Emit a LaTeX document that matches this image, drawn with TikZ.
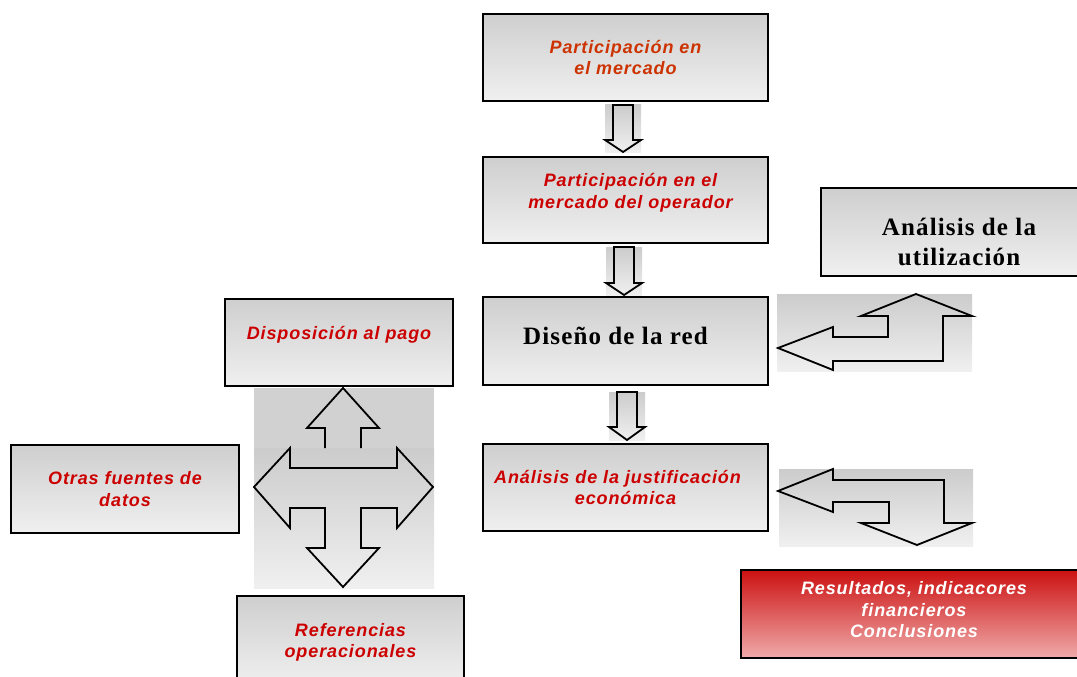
\documentclass[tikz,border=0pt]{standalone}
\usepackage{fontspec}
\usepackage{tikz}
\setmainfont{Liberation Serif}
\newfontfamily\labelfont[LetterSpace=5]{Liberation Sans}
\newfontfamily\titlefont[LetterSpace=4.5]{Liberation Serif}
\definecolor{txtred}{RGB}{204,0,0}
\definecolor{txtorange}{RGB}{204,51,0}
\definecolor{restop}{RGB}{204,17,17}
\definecolor{resbot}{RGB}{240,170,170}

\tikzset{
  box/.style={draw, line width=1.8pt, top color=black!19, bottom color=black!6, align=center, inner sep=0pt},
  redtext/.style={align=center, text=txtred, font=\labelfont\bfseries\itshape\fontsize{18}{21.5}\selectfont},
  bigtext/.style={align=center, font=\titlefont\bfseries\fontsize{25}{30.5}\selectfont},
  arrowbg/.style={top color=black!20, bottom color=black!6},
  blockarrow/.style={draw, line width=1.8pt, line join=miter},
}

\begin{document}
\begin{tikzpicture}[x=1pt, y=-1pt]
        \useasboundingbox (0,0) rectangle (1077,677);
        % down arrows of the main column
        \foreach \cx/\ya/\yb/\yc in {623/105/140/152, 624/247/283/295, 627/392/427/440} {
            \fill[arrowbg] (\cx-18,\ya) rectangle (\cx+18,\yc);
            \draw[blockarrow] (\cx-10,\ya) -- (\cx-10,\yb) -- (\cx-18,\yb) -- (\cx,\yc) -- (\cx+18,\yb) -- (\cx+10,\yb) -- (\cx+10,\ya) -- cycle;
        }
        % bent arrows on the right
        \fill[arrowbg] (777,294) rectangle (972,371);
        \draw[blockarrow] (778,348) -- (833,327) -- (833,337) -- (888,337) -- (888,316) -- (861,316) -- (916,294) -- (972,316) -- (943,316) -- (943,361) -- (833,361) -- (833,370) -- cycle;
        \fill[arrowbg] (779,469) rectangle (973,546);
        \draw[blockarrow] (778,491) -- (833,469) -- (833,480) -- (944,480) -- (944,523) -- (972,523) -- (917,545) -- (861,523) -- (889,523) -- (889,502) -- (833,502) -- (833,512) -- cycle;
        % four-way arrow
        \fill[black!18] (254,388) rectangle (434,448);
        \fill[arrowbg] (254,448) rectangle (434,588);
        \draw[blockarrow] (325,448) -- (325,428) -- (307,428) -- (343,388) -- (379,428) -- (361,428) -- (361,448);
        \draw[blockarrow] (254,487) -- (290,448) -- (290,468) -- (397,468) -- (397,448) -- (433,487) -- (397,528) -- (397,508) -- (361,508) -- (361,548) -- (379,548) -- (343,587) -- (307,548) -- (325,548) -- (325,508) -- (290,508) -- (290,528) -- cycle;
        % boxes
        \node[box, redtext, text=txtorange, minimum width=285pt, minimum height=87pt] (mercado) at (625.5,57.5) {Participación en\\el mercado};
        \node[box, minimum width=285pt, minimum height=86pt,
              label={[redtext, xshift=5pt, yshift=7pt]center:Participación en el\\mercado del operador}] (operador) at (625.5,200) {};
        \node[box, minimum width=264pt, minimum height=88pt,
              label={[bigtext, xshift=6pt, yshift=-10pt]center:Análisis de la\\utilización}] (utilizacion) at (953,232) {};
        \node[box, minimum width=285pt, minimum height=88pt,
              label={[bigtext, xshift=-10pt, yshift=5pt]center:Diseño de la red}] (diseno) at (625.5,341) {};
        \node[box, redtext, minimum width=285pt, minimum height=87pt] (justificacion) at (625.5,487.5) {Análisis de la justificación\hspace*{16pt}\\económica};
        \node[box, minimum width=228pt, minimum height=87pt,
              label={[redtext, yshift=8pt]center:Disposición al pago}] (pago) at (339,342.5) {};
        \node[box, redtext, minimum width=228pt, minimum height=88pt] (fuentes) at (125,489) {Otras fuentes de\\datos};
        \node[box, minimum width=227pt, minimum height=89pt,
              label={[redtext, yshift=-2pt]center:Referencias\\operacionales}] (referencias) at (350.5,640.5) {};
        \node[box, minimum width=344pt, minimum height=88pt, top color=restop, bottom color=resbot,
              label={[redtext, text=white, xshift=1pt, yshift=4pt]center:Resultados, indicacores\\financieros\\Conclusiones}] (resultados) at (913,614) {};
    \end{tikzpicture}
\end{document}
